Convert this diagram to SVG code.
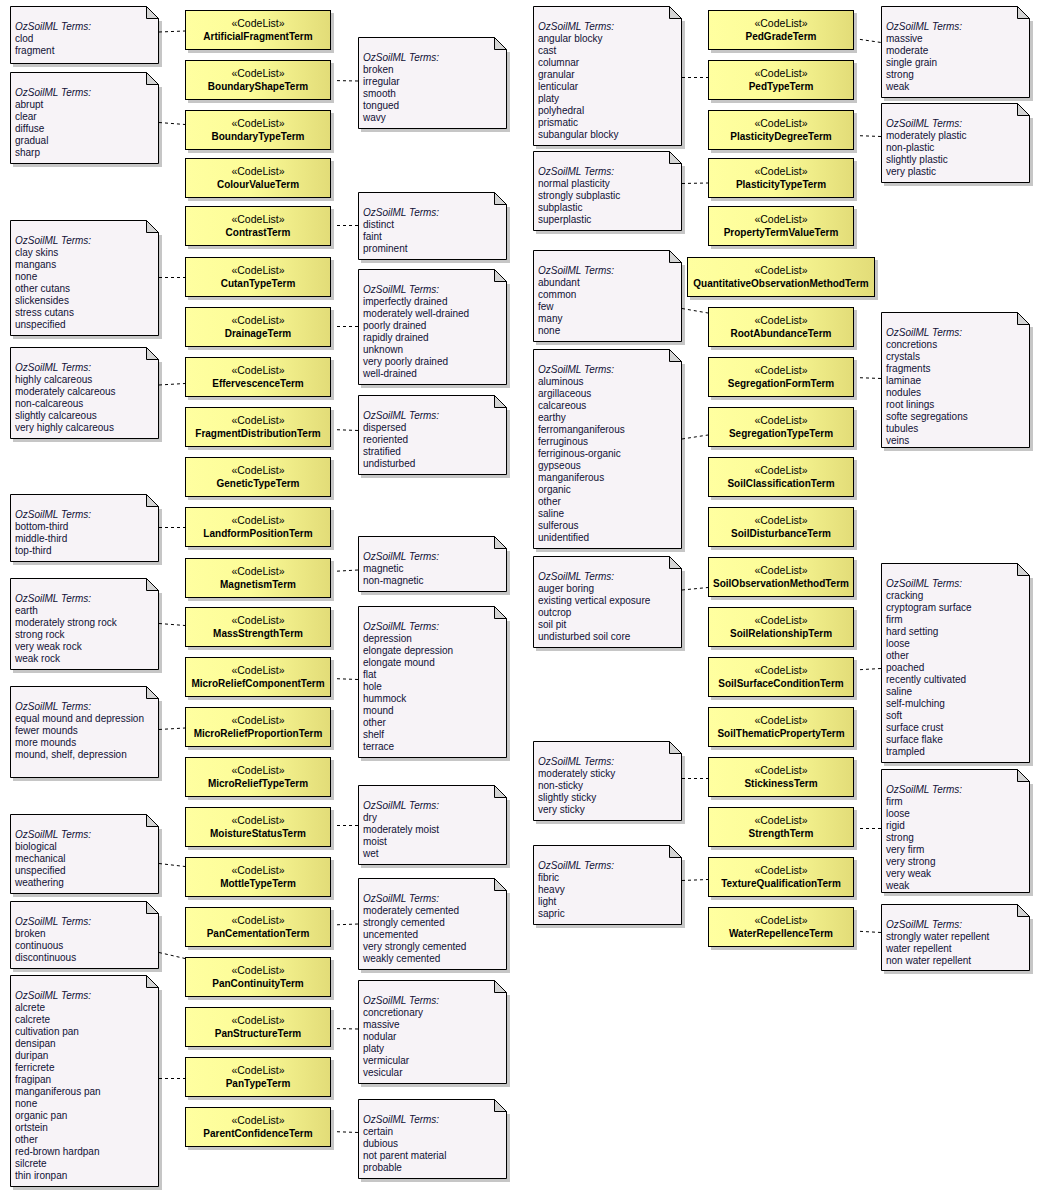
<svg xmlns="http://www.w3.org/2000/svg" width="1039" height="1196" viewBox="0 0 1039 1196">
<defs>
<linearGradient id="yg" x1="0" y1="0" x2="1" y2="0">
<stop offset="0" stop-color="#FFFFA0"/>
<stop offset="0.45" stop-color="#FCFC98"/>
<stop offset="1" stop-color="#E2DC78"/>
</linearGradient>
<style>
.bx{fill:url(#yg);stroke:#000;stroke-width:1}
.sh{fill:#C6C6C6}
.nt{fill:#F7F3F7;stroke:#000;stroke-width:1}
.fd{fill:#D4D4D4;stroke:#000;stroke-width:1;stroke-linejoin:miter}
.st{font-family:"Liberation Sans",Arial,sans-serif;font-size:10.5px;fill:#000;text-anchor:middle}
.nm{font-family:"Liberation Sans",Arial,sans-serif;font-size:10px;font-weight:bold;fill:#000;text-anchor:middle}
.tx{font-family:"Liberation Sans",Arial,sans-serif;font-size:10px;fill:#101035}
.hd{font-style:italic;font-size:10px}
.cn{stroke:#000;stroke-width:1;stroke-dasharray:3 3;fill:none}
</style>
</defs>
<rect x="0" y="0" width="1039" height="1196" fill="#FFFFFF"/>

<!-- ===== Left notes ===== -->
<g id="note-ArtificialFragment"><rect class="sh" x="13" y="21" width="149" height="46"/><polygon class="nt" points="10.5,6.5 146.5,6.5 158.5,18.5 158.5,63.5 10.5,63.5"/><polygon class="fd" points="146.5,6.5 146.5,18.5 158.5,18.5"/><text class="tx" x="15" y="30"><tspan class="hd">OzSoilML Terms:</tspan><tspan x="15" dy="12">clod</tspan><tspan x="15" dy="12">fragment</tspan></text></g>
<g id="note-BoundaryType"><rect class="sh" x="13" y="87" width="149" height="80"/><polygon class="nt" points="10.5,72.5 146.5,72.5 158.5,84.5 158.5,163.5 10.5,163.5"/><polygon class="fd" points="146.5,72.5 146.5,84.5 158.5,84.5"/><text class="tx" x="15" y="96"><tspan class="hd">OzSoilML Terms:</tspan><tspan x="15" dy="12">abrupt</tspan><tspan x="15" dy="12">clear</tspan><tspan x="15" dy="12">diffuse</tspan><tspan x="15" dy="12">gradual</tspan><tspan x="15" dy="12">sharp</tspan></text></g>
<g id="note-CutanType"><rect class="sh" x="13" y="235" width="149" height="104"/><polygon class="nt" points="10.5,220.5 146.5,220.5 158.5,232.5 158.5,335.5 10.5,335.5"/><polygon class="fd" points="146.5,220.5 146.5,232.5 158.5,232.5"/><text class="tx" x="15" y="244"><tspan class="hd">OzSoilML Terms:</tspan><tspan x="15" dy="12">clay skins</tspan><tspan x="15" dy="12">mangans</tspan><tspan x="15" dy="12">none</tspan><tspan x="15" dy="12">other cutans</tspan><tspan x="15" dy="12">slickensides</tspan><tspan x="15" dy="12">stress cutans</tspan><tspan x="15" dy="12">unspecified</tspan></text></g>
<g id="note-Effervescence"><rect class="sh" x="13" y="362" width="149" height="80"/><polygon class="nt" points="10.5,347.5 146.5,347.5 158.5,359.5 158.5,438.5 10.5,438.5"/><polygon class="fd" points="146.5,347.5 146.5,359.5 158.5,359.5"/><text class="tx" x="15" y="371"><tspan class="hd">OzSoilML Terms:</tspan><tspan x="15" dy="12">highly calcareous</tspan><tspan x="15" dy="12">moderately calcareous</tspan><tspan x="15" dy="12">non-calcareous</tspan><tspan x="15" dy="12">slightly calcareous</tspan><tspan x="15" dy="12">very highly calcareous</tspan></text></g>
<g id="note-LandformPosition"><rect class="sh" x="13" y="509" width="149" height="56"/><polygon class="nt" points="10.5,494.5 146.5,494.5 158.5,506.5 158.5,561.5 10.5,561.5"/><polygon class="fd" points="146.5,494.5 146.5,506.5 158.5,506.5"/><text class="tx" x="15" y="518"><tspan class="hd">OzSoilML Terms:</tspan><tspan x="15" dy="12">bottom-third</tspan><tspan x="15" dy="12">middle-third</tspan><tspan x="15" dy="12">top-third</tspan></text></g>
<g id="note-MassStrength"><rect class="sh" x="13" y="593" width="149" height="80"/><polygon class="nt" points="10.5,578.5 146.5,578.5 158.5,590.5 158.5,669.5 10.5,669.5"/><polygon class="fd" points="146.5,578.5 146.5,590.5 158.5,590.5"/><text class="tx" x="15" y="602"><tspan class="hd">OzSoilML Terms:</tspan><tspan x="15" dy="12">earth</tspan><tspan x="15" dy="12">moderately strong rock</tspan><tspan x="15" dy="12">strong rock</tspan><tspan x="15" dy="12">very weak rock</tspan><tspan x="15" dy="12">weak rock</tspan></text></g>
<g id="note-MicroReliefProportion"><rect class="sh" x="13" y="701" width="149" height="80"/><polygon class="nt" points="10.5,686.5 146.5,686.5 158.5,698.5 158.5,777.5 10.5,777.5"/><polygon class="fd" points="146.5,686.5 146.5,698.5 158.5,698.5"/><text class="tx" x="15" y="710"><tspan class="hd">OzSoilML Terms:</tspan><tspan x="15" dy="12">equal mound and depression</tspan><tspan x="15" dy="12">fewer mounds</tspan><tspan x="15" dy="12">more mounds</tspan><tspan x="15" dy="12">mound, shelf, depression</tspan></text></g>
<g id="note-MottleType"><rect class="sh" x="13" y="829" width="149" height="68"/><polygon class="nt" points="10.5,814.5 146.5,814.5 158.5,826.5 158.5,893.5 10.5,893.5"/><polygon class="fd" points="146.5,814.5 146.5,826.5 158.5,826.5"/><text class="tx" x="15" y="838"><tspan class="hd">OzSoilML Terms:</tspan><tspan x="15" dy="12">biological</tspan><tspan x="15" dy="12">mechanical</tspan><tspan x="15" dy="12">unspecified</tspan><tspan x="15" dy="12">weathering</tspan></text></g>
<g id="note-PanContinuity"><rect class="sh" x="13" y="916" width="149" height="56"/><polygon class="nt" points="10.5,901.5 146.5,901.5 158.5,913.5 158.5,968.5 10.5,968.5"/><polygon class="fd" points="146.5,901.5 146.5,913.5 158.5,913.5"/><text class="tx" x="15" y="925"><tspan class="hd">OzSoilML Terms:</tspan><tspan x="15" dy="12">broken</tspan><tspan x="15" dy="12">continuous</tspan><tspan x="15" dy="12">discontinuous</tspan></text></g>
<g id="note-PanType"><rect class="sh" x="13" y="990" width="149" height="200"/><polygon class="nt" points="10.5,975.5 146.5,975.5 158.5,987.5 158.5,1186.5 10.5,1186.5"/><polygon class="fd" points="146.5,975.5 146.5,987.5 158.5,987.5"/><text class="tx" x="15" y="999"><tspan class="hd">OzSoilML Terms:</tspan><tspan x="15" dy="12">alcrete</tspan><tspan x="15" dy="12">calcrete</tspan><tspan x="15" dy="12">cultivation pan</tspan><tspan x="15" dy="12">densipan</tspan><tspan x="15" dy="12">duripan</tspan><tspan x="15" dy="12">ferricrete</tspan><tspan x="15" dy="12">fragipan</tspan><tspan x="15" dy="12">manganiferous pan</tspan><tspan x="15" dy="12">none</tspan><tspan x="15" dy="12">organic pan</tspan><tspan x="15" dy="12">ortstein</tspan><tspan x="15" dy="12">other</tspan><tspan x="15" dy="12">red-brown hardpan</tspan><tspan x="15" dy="12">silcrete</tspan><tspan x="15" dy="12">thin ironpan</tspan></text></g>

<!-- ===== Mid-left notes ===== -->
<g id="note-BoundaryShape"><rect class="sh" x="361" y="52" width="149" height="80"/><polygon class="nt" points="358.5,37.5 494.5,37.5 506.5,49.5 506.5,128.5 358.5,128.5"/><polygon class="fd" points="494.5,37.5 494.5,49.5 506.5,49.5"/><text class="tx" x="363" y="61"><tspan class="hd">OzSoilML Terms:</tspan><tspan x="363" dy="12">broken</tspan><tspan x="363" dy="12">irregular</tspan><tspan x="363" dy="12">smooth</tspan><tspan x="363" dy="12">tongued</tspan><tspan x="363" dy="12">wavy</tspan></text></g>
<g id="note-Contrast"><rect class="sh" x="361" y="207" width="149" height="56"/><polygon class="nt" points="358.5,192.5 494.5,192.5 506.5,204.5 506.5,259.5 358.5,259.5"/><polygon class="fd" points="494.5,192.5 494.5,204.5 506.5,204.5"/><text class="tx" x="363" y="216"><tspan class="hd">OzSoilML Terms:</tspan><tspan x="363" dy="12">distinct</tspan><tspan x="363" dy="12">faint</tspan><tspan x="363" dy="12">prominent</tspan></text></g>
<g id="note-Drainage"><rect class="sh" x="361" y="284" width="149" height="104"/><polygon class="nt" points="358.5,269.5 494.5,269.5 506.5,281.5 506.5,384.5 358.5,384.5"/><polygon class="fd" points="494.5,269.5 494.5,281.5 506.5,281.5"/><text class="tx" x="363" y="293"><tspan class="hd">OzSoilML Terms:</tspan><tspan x="363" dy="12">imperfectly drained</tspan><tspan x="363" dy="12">moderately well-drained</tspan><tspan x="363" dy="12">poorly drained</tspan><tspan x="363" dy="12">rapidly drained</tspan><tspan x="363" dy="12">unknown</tspan><tspan x="363" dy="12">very poorly drained</tspan><tspan x="363" dy="12">well-drained</tspan></text></g>
<g id="note-FragmentDistribution"><rect class="sh" x="361" y="410" width="149" height="68"/><polygon class="nt" points="358.5,395.5 494.5,395.5 506.5,407.5 506.5,474.5 358.5,474.5"/><polygon class="fd" points="494.5,395.5 494.5,407.5 506.5,407.5"/><text class="tx" x="363" y="419"><tspan class="hd">OzSoilML Terms:</tspan><tspan x="363" dy="12">dispersed</tspan><tspan x="363" dy="12">reoriented</tspan><tspan x="363" dy="12">stratified</tspan><tspan x="363" dy="12">undisturbed</tspan></text></g>
<g id="note-Magnetism"><rect class="sh" x="361" y="551" width="149" height="44"/><polygon class="nt" points="358.5,536.5 494.5,536.5 506.5,548.5 506.5,591.5 358.5,591.5"/><polygon class="fd" points="494.5,536.5 494.5,548.5 506.5,548.5"/><text class="tx" x="363" y="560"><tspan class="hd">OzSoilML Terms:</tspan><tspan x="363" dy="12">magnetic</tspan><tspan x="363" dy="12">non-magnetic</tspan></text></g>
<g id="note-MicroReliefComponent"><rect class="sh" x="361" y="621" width="149" height="140"/><polygon class="nt" points="358.5,606.5 494.5,606.5 506.5,618.5 506.5,757.5 358.5,757.5"/><polygon class="fd" points="494.5,606.5 494.5,618.5 506.5,618.5"/><text class="tx" x="363" y="630"><tspan class="hd">OzSoilML Terms:</tspan><tspan x="363" dy="12">depression</tspan><tspan x="363" dy="12">elongate depression</tspan><tspan x="363" dy="12">elongate mound</tspan><tspan x="363" dy="12">flat</tspan><tspan x="363" dy="12">hole</tspan><tspan x="363" dy="12">hummock</tspan><tspan x="363" dy="12">mound</tspan><tspan x="363" dy="12">other</tspan><tspan x="363" dy="12">shelf</tspan><tspan x="363" dy="12">terrace</tspan></text></g>
<g id="note-MoistureStatus"><rect class="sh" x="361" y="800" width="149" height="68"/><polygon class="nt" points="358.5,785.5 494.5,785.5 506.5,797.5 506.5,864.5 358.5,864.5"/><polygon class="fd" points="494.5,785.5 494.5,797.5 506.5,797.5"/><text class="tx" x="363" y="809"><tspan class="hd">OzSoilML Terms:</tspan><tspan x="363" dy="12">dry</tspan><tspan x="363" dy="12">moderately moist</tspan><tspan x="363" dy="12">moist</tspan><tspan x="363" dy="12">wet</tspan></text></g>
<g id="note-PanCementation"><rect class="sh" x="361" y="893" width="149" height="80"/><polygon class="nt" points="358.5,878.5 494.5,878.5 506.5,890.5 506.5,969.5 358.5,969.5"/><polygon class="fd" points="494.5,878.5 494.5,890.5 506.5,890.5"/><text class="tx" x="363" y="902"><tspan class="hd">OzSoilML Terms:</tspan><tspan x="363" dy="12">moderately cemented</tspan><tspan x="363" dy="12">strongly cemented</tspan><tspan x="363" dy="12">uncemented</tspan><tspan x="363" dy="12">very strongly cemented</tspan><tspan x="363" dy="12">weakly cemented</tspan></text></g>
<g id="note-PanStructure"><rect class="sh" x="361" y="995" width="149" height="92"/><polygon class="nt" points="358.5,980.5 494.5,980.5 506.5,992.5 506.5,1083.5 358.5,1083.5"/><polygon class="fd" points="494.5,980.5 494.5,992.5 506.5,992.5"/><text class="tx" x="363" y="1004"><tspan class="hd">OzSoilML Terms:</tspan><tspan x="363" dy="12">concretionary</tspan><tspan x="363" dy="12">massive</tspan><tspan x="363" dy="12">nodular</tspan><tspan x="363" dy="12">platy</tspan><tspan x="363" dy="12">vermicular</tspan><tspan x="363" dy="12">vesicular</tspan></text></g>
<g id="note-ParentConfidence"><rect class="sh" x="361" y="1114" width="149" height="68"/><polygon class="nt" points="358.5,1099.5 494.5,1099.5 506.5,1111.5 506.5,1178.5 358.5,1178.5"/><polygon class="fd" points="494.5,1099.5 494.5,1111.5 506.5,1111.5"/><text class="tx" x="363" y="1123"><tspan class="hd">OzSoilML Terms:</tspan><tspan x="363" dy="12">certain</tspan><tspan x="363" dy="12">dubious</tspan><tspan x="363" dy="12">not parent material</tspan><tspan x="363" dy="12">probable</tspan></text></g>

<!-- ===== Middle-right notes ===== -->
<g id="note-PedType"><rect class="sh" x="536" y="21" width="149" height="128"/><polygon class="nt" points="533.5,6.5 669.5,6.5 681.5,18.5 681.5,145.5 533.5,145.5"/><polygon class="fd" points="669.5,6.5 669.5,18.5 681.5,18.5"/><text class="tx" x="538" y="30"><tspan class="hd">OzSoilML Terms:</tspan><tspan x="538" dy="12">angular blocky</tspan><tspan x="538" dy="12">cast</tspan><tspan x="538" dy="12">columnar</tspan><tspan x="538" dy="12">granular</tspan><tspan x="538" dy="12">lenticular</tspan><tspan x="538" dy="12">platy</tspan><tspan x="538" dy="12">polyhedral</tspan><tspan x="538" dy="12">prismatic</tspan><tspan x="538" dy="12">subangular blocky</tspan></text></g>
<g id="note-PlasticityType"><rect class="sh" x="536" y="166" width="149" height="68"/><polygon class="nt" points="533.5,151.5 669.5,151.5 681.5,163.5 681.5,230.5 533.5,230.5"/><polygon class="fd" points="669.5,151.5 669.5,163.5 681.5,163.5"/><text class="tx" x="538" y="175"><tspan class="hd">OzSoilML Terms:</tspan><tspan x="538" dy="12">normal plasticity</tspan><tspan x="538" dy="12">strongly subplastic</tspan><tspan x="538" dy="12">subplastic</tspan><tspan x="538" dy="12">superplastic</tspan></text></g>
<g id="note-RootAbundance"><rect class="sh" x="536" y="265" width="149" height="80"/><polygon class="nt" points="533.5,250.5 669.5,250.5 681.5,262.5 681.5,341.5 533.5,341.5"/><polygon class="fd" points="669.5,250.5 669.5,262.5 681.5,262.5"/><text class="tx" x="538" y="274"><tspan class="hd">OzSoilML Terms:</tspan><tspan x="538" dy="12">abundant</tspan><tspan x="538" dy="12">common</tspan><tspan x="538" dy="12">few</tspan><tspan x="538" dy="12">many</tspan><tspan x="538" dy="12">none</tspan></text></g>
<g id="note-SegregationType"><rect class="sh" x="536" y="364" width="149" height="188"/><polygon class="nt" points="533.5,349.5 669.5,349.5 681.5,361.5 681.5,548.5 533.5,548.5"/><polygon class="fd" points="669.5,349.5 669.5,361.5 681.5,361.5"/><text class="tx" x="538" y="373"><tspan class="hd">OzSoilML Terms:</tspan><tspan x="538" dy="12">aluminous</tspan><tspan x="538" dy="12">argillaceous</tspan><tspan x="538" dy="12">calcareous</tspan><tspan x="538" dy="12">earthy</tspan><tspan x="538" dy="12">ferromanganiferous</tspan><tspan x="538" dy="12">ferruginous</tspan><tspan x="538" dy="12">ferriginous-organic</tspan><tspan x="538" dy="12">gypseous</tspan><tspan x="538" dy="12">manganiferous</tspan><tspan x="538" dy="12">organic</tspan><tspan x="538" dy="12">other</tspan><tspan x="538" dy="12">saline</tspan><tspan x="538" dy="12">sulferous</tspan><tspan x="538" dy="12">unidentified</tspan></text></g>
<g id="note-SoilObservationMethod"><rect class="sh" x="536" y="571" width="149" height="80"/><polygon class="nt" points="533.5,556.5 669.5,556.5 681.5,568.5 681.5,647.5 533.5,647.5"/><polygon class="fd" points="669.5,556.5 669.5,568.5 681.5,568.5"/><text class="tx" x="538" y="580"><tspan class="hd">OzSoilML Terms:</tspan><tspan x="538" dy="12">auger boring</tspan><tspan x="538" dy="12">existing vertical exposure</tspan><tspan x="538" dy="12">outcrop</tspan><tspan x="538" dy="12">soil pit</tspan><tspan x="538" dy="12">undisturbed soil core</tspan></text></g>
<g id="note-Stickiness"><rect class="sh" x="536" y="756" width="149" height="68"/><polygon class="nt" points="533.5,741.5 669.5,741.5 681.5,753.5 681.5,820.5 533.5,820.5"/><polygon class="fd" points="669.5,741.5 669.5,753.5 681.5,753.5"/><text class="tx" x="538" y="765"><tspan class="hd">OzSoilML Terms:</tspan><tspan x="538" dy="12">moderately sticky</tspan><tspan x="538" dy="12">non-sticky</tspan><tspan x="538" dy="12">slightly sticky</tspan><tspan x="538" dy="12">very sticky</tspan></text></g>
<g id="note-TextureQualification"><rect class="sh" x="536" y="860" width="149" height="68"/><polygon class="nt" points="533.5,845.5 669.5,845.5 681.5,857.5 681.5,924.5 533.5,924.5"/><polygon class="fd" points="669.5,845.5 669.5,857.5 681.5,857.5"/><text class="tx" x="538" y="869"><tspan class="hd">OzSoilML Terms:</tspan><tspan x="538" dy="12">fibric</tspan><tspan x="538" dy="12">heavy</tspan><tspan x="538" dy="12">light</tspan><tspan x="538" dy="12">sapric</tspan></text></g>

<!-- ===== Right notes ===== -->
<g id="note-PedGrade"><rect class="sh" x="884" y="21" width="149" height="80"/><polygon class="nt" points="881.5,6.5 1017.5,6.5 1029.5,18.5 1029.5,97.5 881.5,97.5"/><polygon class="fd" points="1017.5,6.5 1017.5,18.5 1029.5,18.5"/><text class="tx" x="886" y="30"><tspan class="hd">OzSoilML Terms:</tspan><tspan x="886" dy="12">massive</tspan><tspan x="886" dy="12">moderate</tspan><tspan x="886" dy="12">single grain</tspan><tspan x="886" dy="12">strong</tspan><tspan x="886" dy="12">weak</tspan></text></g>
<g id="note-PlasticityDegree"><rect class="sh" x="884" y="118" width="149" height="68"/><polygon class="nt" points="881.5,103.5 1017.5,103.5 1029.5,115.5 1029.5,182.5 881.5,182.5"/><polygon class="fd" points="1017.5,103.5 1017.5,115.5 1029.5,115.5"/><text class="tx" x="886" y="127"><tspan class="hd">OzSoilML Terms:</tspan><tspan x="886" dy="12">moderately plastic</tspan><tspan x="886" dy="12">non-plastic</tspan><tspan x="886" dy="12">slightly plastic</tspan><tspan x="886" dy="12">very plastic</tspan></text></g>
<g id="note-SegregationForm"><rect class="sh" x="884" y="327" width="149" height="124"/><polygon class="nt" points="881.5,312.5 1017.5,312.5 1029.5,324.5 1029.5,447.5 881.5,447.5"/><polygon class="fd" points="1017.5,312.5 1017.5,324.5 1029.5,324.5"/><text class="tx" x="886" y="336"><tspan class="hd">OzSoilML Terms:</tspan><tspan x="886" dy="12">concretions</tspan><tspan x="886" dy="12">crystals</tspan><tspan x="886" dy="12">fragments</tspan><tspan x="886" dy="12">laminae</tspan><tspan x="886" dy="12">nodules</tspan><tspan x="886" dy="12">root linings</tspan><tspan x="886" dy="12">softe segregations</tspan><tspan x="886" dy="12">tubules</tspan><tspan x="886" dy="12">veins</tspan></text></g>
<g id="note-SoilSurfaceCondition"><rect class="sh" x="884" y="578" width="149" height="188"/><polygon class="nt" points="881.5,563.5 1017.5,563.5 1029.5,575.5 1029.5,762.5 881.5,762.5"/><polygon class="fd" points="1017.5,563.5 1017.5,575.5 1029.5,575.5"/><text class="tx" x="886" y="587"><tspan class="hd">OzSoilML Terms:</tspan><tspan x="886" dy="12">cracking</tspan><tspan x="886" dy="12">cryptogram surface</tspan><tspan x="886" dy="12">firm</tspan><tspan x="886" dy="12">hard setting</tspan><tspan x="886" dy="12">loose</tspan><tspan x="886" dy="12">other</tspan><tspan x="886" dy="12">poached</tspan><tspan x="886" dy="12">recently cultivated</tspan><tspan x="886" dy="12">saline</tspan><tspan x="886" dy="12">self-mulching</tspan><tspan x="886" dy="12">soft</tspan><tspan x="886" dy="12">surface crust</tspan><tspan x="886" dy="12">surface flake</tspan><tspan x="886" dy="12">trampled</tspan></text></g>
<g id="note-Strength"><rect class="sh" x="884" y="784" width="149" height="112"/><polygon class="nt" points="881.5,769.5 1017.5,769.5 1029.5,781.5 1029.5,892.5 881.5,892.5"/><polygon class="fd" points="1017.5,769.5 1017.5,781.5 1029.5,781.5"/><text class="tx" x="886" y="793"><tspan class="hd">OzSoilML Terms:</tspan><tspan x="886" dy="12">firm</tspan><tspan x="886" dy="12">loose</tspan><tspan x="886" dy="12">rigid</tspan><tspan x="886" dy="12">strong</tspan><tspan x="886" dy="12">very firm</tspan><tspan x="886" dy="12">very strong</tspan><tspan x="886" dy="12">very weak</tspan><tspan x="886" dy="12">weak</tspan></text></g>
<g id="note-WaterRepellence"><rect class="sh" x="884" y="919" width="149" height="55"/><polygon class="nt" points="881.5,904.5 1017.5,904.5 1029.5,916.5 1029.5,970.5 881.5,970.5"/><polygon class="fd" points="1017.5,904.5 1017.5,916.5 1029.5,916.5"/><text class="tx" x="886" y="928"><tspan class="hd">OzSoilML Terms:</tspan><tspan x="886" dy="12">strongly water repellent</tspan><tspan x="886" dy="12">water repellent</tspan><tspan x="886" dy="12">non water repellent</tspan></text></g>

<!-- ===== Connectors ===== -->
<g id="connectors">
<path class="cn" d="M159,32 L185,31"/>
<path class="cn" d="M159,122.5 L185,124.5"/>
<path class="cn" d="M159,277.5 L185,277.5"/>
<path class="cn" d="M159,385 L185,383.5"/>
<path class="cn" d="M159,527.5 L185,527.5"/>
<path class="cn" d="M159,623.5 L185,625.5"/>
<path class="cn" d="M159,729.5 L185,728"/>
<path class="cn" d="M159,863.5 L185,866.5"/>
<path class="cn" d="M159,952.5 L185,958.5"/>
<path class="cn" d="M159,1078.5 L185,1078.5"/>
<path class="cn" d="M331,80.5 L358,81"/>
<path class="cn" d="M331,225.5 L358,225.5"/>
<path class="cn" d="M331,326.5 L358,326.5"/>
<path class="cn" d="M331,429.5 L358,430.5"/>
<path class="cn" d="M331,571.5 L358,570"/>
<path class="cn" d="M331,678.5 L358,679.5"/>
<path class="cn" d="M331,825.5 L358,825.5"/>
<path class="cn" d="M331,925 L358,924"/>
<path class="cn" d="M331,1028.5 L358,1029"/>
<path class="cn" d="M331,1131.5 L358,1132.5"/>
<path class="cn" d="M682,77.5 L708,77.5"/>
<path class="cn" d="M682,183.5 L708,183"/>
<path class="cn" d="M682,308.5 L708,313"/>
<path class="cn" d="M682,439 L708,435"/>
<path class="cn" d="M682,590 L708,587.5"/>
<path class="cn" d="M682,778.5 L708,778.5"/>
<path class="cn" d="M682,880.5 L708,879.5"/>
<path class="cn" d="M854,38.5 L881,42.5"/>
<path class="cn" d="M854,135.5 L881,136.5"/>
<path class="cn" d="M854,377.5 L881,378.5"/>
<path class="cn" d="M854,670 L881,668.5"/>
<path class="cn" d="M854,828.5 L881,828.5"/>
<path class="cn" d="M854,931 L881,932.5"/>
</g>

<!-- ===== Left classes ===== -->
<g id="ArtificialFragmentTerm"><rect class="sh" x="188" y="13" width="146" height="40"/><rect class="bx" x="185.5" y="10.5" width="145" height="39"/><text class="st" x="258" y="26.5">«CodeList»</text><text class="nm" x="258" y="39.5">ArtificialFragmentTerm</text></g>
<g id="BoundaryShapeTerm"><rect class="sh" x="188" y="63" width="146" height="40"/><rect class="bx" x="185.5" y="60.5" width="145" height="39"/><text class="st" x="258" y="76.5">«CodeList»</text><text class="nm" x="258" y="89.5">BoundaryShapeTerm</text></g>
<g id="BoundaryTypeTerm"><rect class="sh" x="188" y="113" width="146" height="40"/><rect class="bx" x="185.5" y="110.5" width="145" height="39"/><text class="st" x="258" y="126.5">«CodeList»</text><text class="nm" x="258" y="139.5">BoundaryTypeTerm</text></g>
<g id="ColourValueTerm"><rect class="sh" x="188" y="161" width="146" height="40"/><rect class="bx" x="185.5" y="158.5" width="145" height="39"/><text class="st" x="258" y="174.5">«CodeList»</text><text class="nm" x="258" y="187.5">ColourValueTerm</text></g>
<g id="ContrastTerm"><rect class="sh" x="188" y="209" width="146" height="40"/><rect class="bx" x="185.5" y="206.5" width="145" height="39"/><text class="st" x="258" y="222.5">«CodeList»</text><text class="nm" x="258" y="235.5">ContrastTerm</text></g>
<g id="CutanTypeTerm"><rect class="sh" x="188" y="260" width="146" height="40"/><rect class="bx" x="185.5" y="257.5" width="145" height="39"/><text class="st" x="258" y="273.5">«CodeList»</text><text class="nm" x="258" y="286.5">CutanTypeTerm</text></g>
<g id="DrainageTerm"><rect class="sh" x="188" y="310" width="146" height="40"/><rect class="bx" x="185.5" y="307.5" width="145" height="39"/><text class="st" x="258" y="323.5">«CodeList»</text><text class="nm" x="258" y="336.5">DrainageTerm</text></g>
<g id="EffervescenceTerm"><rect class="sh" x="188" y="360" width="146" height="40"/><rect class="bx" x="185.5" y="357.5" width="145" height="39"/><text class="st" x="258" y="373.5">«CodeList»</text><text class="nm" x="258" y="386.5">EffervescenceTerm</text></g>
<g id="FragmentDistributionTerm"><rect class="sh" x="188" y="410" width="146" height="40"/><rect class="bx" x="185.5" y="407.5" width="145" height="39"/><text class="st" x="258" y="423.5">«CodeList»</text><text class="nm" x="258" y="436.5">FragmentDistributionTerm</text></g>
<g id="GeneticTypeTerm"><rect class="sh" x="188" y="460" width="146" height="40"/><rect class="bx" x="185.5" y="457.5" width="145" height="39"/><text class="st" x="258" y="473.5">«CodeList»</text><text class="nm" x="258" y="486.5">GeneticTypeTerm</text></g>
<g id="LandformPositionTerm"><rect class="sh" x="188" y="510" width="146" height="40"/><rect class="bx" x="185.5" y="507.5" width="145" height="39"/><text class="st" x="258" y="523.5">«CodeList»</text><text class="nm" x="258" y="536.5">LandformPositionTerm</text></g>
<g id="MagnetismTerm"><rect class="sh" x="188" y="561" width="146" height="40"/><rect class="bx" x="185.5" y="558.5" width="145" height="39"/><text class="st" x="258" y="574.5">«CodeList»</text><text class="nm" x="258" y="587.5">MagnetismTerm</text></g>
<g id="MassStrengthTerm"><rect class="sh" x="188" y="610" width="146" height="40"/><rect class="bx" x="185.5" y="607.5" width="145" height="39"/><text class="st" x="258" y="623.5">«CodeList»</text><text class="nm" x="258" y="636.5">MassStrengthTerm</text></g>
<g id="MicroReliefComponentTerm"><rect class="sh" x="188" y="660" width="146" height="40"/><rect class="bx" x="185.5" y="657.5" width="145" height="39"/><text class="st" x="258" y="673.5">«CodeList»</text><text class="nm" x="258" y="686.5">MicroReliefComponentTerm</text></g>
<g id="MicroReliefProportionTerm"><rect class="sh" x="188" y="710" width="146" height="40"/><rect class="bx" x="185.5" y="707.5" width="145" height="39"/><text class="st" x="258" y="723.5">«CodeList»</text><text class="nm" x="258" y="736.5">MicroReliefProportionTerm</text></g>
<g id="MicroReliefTypeTerm"><rect class="sh" x="188" y="760" width="146" height="40"/><rect class="bx" x="185.5" y="757.5" width="145" height="39"/><text class="st" x="258" y="773.5">«CodeList»</text><text class="nm" x="258" y="786.5">MicroReliefTypeTerm</text></g>
<g id="MoistureStatusTerm"><rect class="sh" x="188" y="810" width="146" height="40"/><rect class="bx" x="185.5" y="807.5" width="145" height="39"/><text class="st" x="258" y="823.5">«CodeList»</text><text class="nm" x="258" y="836.5">MoistureStatusTerm</text></g>
<g id="MottleTypeTerm"><rect class="sh" x="188" y="860" width="146" height="40"/><rect class="bx" x="185.5" y="857.5" width="145" height="39"/><text class="st" x="258" y="873.5">«CodeList»</text><text class="nm" x="258" y="886.5">MottleTypeTerm</text></g>
<g id="PanCementationTerm"><rect class="sh" x="188" y="910" width="146" height="40"/><rect class="bx" x="185.5" y="907.5" width="145" height="39"/><text class="st" x="258" y="923.5">«CodeList»</text><text class="nm" x="258" y="936.5">PanCementationTerm</text></g>
<g id="PanContinuityTerm"><rect class="sh" x="188" y="960" width="146" height="40"/><rect class="bx" x="185.5" y="957.5" width="145" height="39"/><text class="st" x="258" y="973.5">«CodeList»</text><text class="nm" x="258" y="986.5">PanContinuityTerm</text></g>
<g id="PanStructureTerm"><rect class="sh" x="188" y="1010" width="146" height="40"/><rect class="bx" x="185.5" y="1007.5" width="145" height="39"/><text class="st" x="258" y="1023.5">«CodeList»</text><text class="nm" x="258" y="1036.5">PanStructureTerm</text></g>
<g id="PanTypeTerm"><rect class="sh" x="188" y="1060" width="146" height="40"/><rect class="bx" x="185.5" y="1057.5" width="145" height="39"/><text class="st" x="258" y="1073.5">«CodeList»</text><text class="nm" x="258" y="1086.5">PanTypeTerm</text></g>
<g id="ParentConfidenceTerm"><rect class="sh" x="188" y="1110" width="146" height="40"/><rect class="bx" x="185.5" y="1107.5" width="145" height="39"/><text class="st" x="258" y="1123.5">«CodeList»</text><text class="nm" x="258" y="1136.5">ParentConfidenceTerm</text></g>

<!-- ===== Right classes ===== -->
<g id="PedGradeTerm"><rect class="sh" x="711" y="13" width="146" height="40"/><rect class="bx" x="708.5" y="10.5" width="145" height="39"/><text class="st" x="781" y="26.5">«CodeList»</text><text class="nm" x="781" y="39.5">PedGradeTerm</text></g>
<g id="PedTypeTerm"><rect class="sh" x="711" y="63" width="146" height="40"/><rect class="bx" x="708.5" y="60.5" width="145" height="39"/><text class="st" x="781" y="76.5">«CodeList»</text><text class="nm" x="781" y="89.5">PedTypeTerm</text></g>
<g id="PlasticityDegreeTerm"><rect class="sh" x="711" y="113" width="146" height="40"/><rect class="bx" x="708.5" y="110.5" width="145" height="39"/><text class="st" x="781" y="126.5">«CodeList»</text><text class="nm" x="781" y="139.5">PlasticityDegreeTerm</text></g>
<g id="PlasticityTypeTerm"><rect class="sh" x="711" y="161" width="146" height="40"/><rect class="bx" x="708.5" y="158.5" width="145" height="39"/><text class="st" x="781" y="174.5">«CodeList»</text><text class="nm" x="781" y="187.5">PlasticityTypeTerm</text></g>
<g id="PropertyTermValueTerm"><rect class="sh" x="711" y="209" width="146" height="40"/><rect class="bx" x="708.5" y="206.5" width="145" height="39"/><text class="st" x="781" y="222.5">«CodeList»</text><text class="nm" x="781" y="235.5">PropertyTermValueTerm</text></g>
<g id="QuantitativeObservationMethodTerm"><rect class="sh" x="690" y="260" width="188" height="40"/><rect class="bx" x="687.5" y="257.5" width="187" height="39"/><text class="st" x="781" y="273.5">«CodeList»</text><text class="nm" x="781" y="286.5">QuantitativeObservationMethodTerm</text></g>
<g id="RootAbundanceTerm"><rect class="sh" x="711" y="310" width="146" height="40"/><rect class="bx" x="708.5" y="307.5" width="145" height="39"/><text class="st" x="781" y="323.5">«CodeList»</text><text class="nm" x="781" y="336.5">RootAbundanceTerm</text></g>
<g id="SegregationFormTerm"><rect class="sh" x="711" y="360" width="146" height="40"/><rect class="bx" x="708.5" y="357.5" width="145" height="39"/><text class="st" x="781" y="373.5">«CodeList»</text><text class="nm" x="781" y="386.5">SegregationFormTerm</text></g>
<g id="SegregationTypeTerm"><rect class="sh" x="711" y="410" width="146" height="40"/><rect class="bx" x="708.5" y="407.5" width="145" height="39"/><text class="st" x="781" y="423.5">«CodeList»</text><text class="nm" x="781" y="436.5">SegregationTypeTerm</text></g>
<g id="SoilClassificationTerm"><rect class="sh" x="711" y="460" width="146" height="40"/><rect class="bx" x="708.5" y="457.5" width="145" height="39"/><text class="st" x="781" y="473.5">«CodeList»</text><text class="nm" x="781" y="486.5">SoilClassificationTerm</text></g>
<g id="SoilDisturbanceTerm"><rect class="sh" x="711" y="510" width="146" height="40"/><rect class="bx" x="708.5" y="507.5" width="145" height="39"/><text class="st" x="781" y="523.5">«CodeList»</text><text class="nm" x="781" y="536.5">SoilDisturbanceTerm</text></g>
<g id="SoilObservationMethodTerm"><rect class="sh" x="711" y="560" width="146" height="40"/><rect class="bx" x="708.5" y="557.5" width="145" height="39"/><text class="st" x="781" y="573.5">«CodeList»</text><text class="nm" x="781" y="586.5">SoilObservationMethodTerm</text></g>
<g id="SoilRelationshipTerm"><rect class="sh" x="711" y="610" width="146" height="40"/><rect class="bx" x="708.5" y="607.5" width="145" height="39"/><text class="st" x="781" y="623.5">«CodeList»</text><text class="nm" x="781" y="636.5">SoilRelationshipTerm</text></g>
<g id="SoilSurfaceConditionTerm"><rect class="sh" x="711" y="660" width="146" height="40"/><rect class="bx" x="708.5" y="657.5" width="145" height="39"/><text class="st" x="781" y="673.5">«CodeList»</text><text class="nm" x="781" y="686.5">SoilSurfaceConditionTerm</text></g>
<g id="SoilThematicPropertyTerm"><rect class="sh" x="711" y="710" width="146" height="40"/><rect class="bx" x="708.5" y="707.5" width="145" height="39"/><text class="st" x="781" y="723.5">«CodeList»</text><text class="nm" x="781" y="736.5">SoilThematicPropertyTerm</text></g>
<g id="StickinessTerm"><rect class="sh" x="711" y="760" width="146" height="40"/><rect class="bx" x="708.5" y="757.5" width="145" height="39"/><text class="st" x="781" y="773.5">«CodeList»</text><text class="nm" x="781" y="786.5">StickinessTerm</text></g>
<g id="StrengthTerm"><rect class="sh" x="711" y="810" width="146" height="40"/><rect class="bx" x="708.5" y="807.5" width="145" height="39"/><text class="st" x="781" y="823.5">«CodeList»</text><text class="nm" x="781" y="836.5">StrengthTerm</text></g>
<g id="TextureQualificationTerm"><rect class="sh" x="711" y="860" width="146" height="40"/><rect class="bx" x="708.5" y="857.5" width="145" height="39"/><text class="st" x="781" y="873.5">«CodeList»</text><text class="nm" x="781" y="886.5">TextureQualificationTerm</text></g>
<g id="WaterRepellenceTerm"><rect class="sh" x="711" y="910" width="146" height="40"/><rect class="bx" x="708.5" y="907.5" width="145" height="39"/><text class="st" x="781" y="923.5">«CodeList»</text><text class="nm" x="781" y="936.5">WaterRepellenceTerm</text></g>
</svg>
